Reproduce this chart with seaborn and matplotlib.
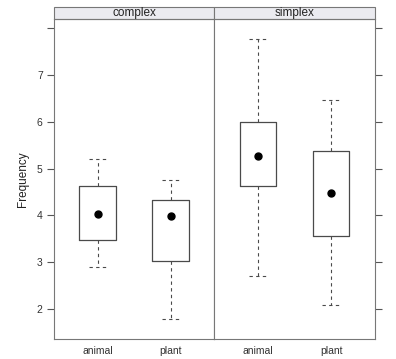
import pandas as pd
import seaborn as sns
import matplotlib.pyplot as plt
from matplotlib.patches import Rectangle

# Box summaries (lattice bwplot: dot = median)
groups = ["complex", "complex", "simplex", "simplex"]
kinds = ["animal", "plant", "animal", "plant"]
whis_lo = [2.89, 1.78, 2.70, 2.09]
q1 = [3.47, 3.02, 4.62, 3.55]
median = [4.04, 3.98, 5.27, 4.47]
q3 = [4.62, 4.32, 6.00, 5.38]
whis_hi = [5.21, 4.75, 7.77, 6.47]

kind_order = ["animal", "plant"]
y_ticks = [2, 3, 4, 5, 6, 7, 8]
y_labels = ["2", "3", "4", "5", "6", "7", ""]

df = pd.DataFrame({
    "group": groups, "kind": kinds, "whislo": whis_lo, "q1": q1,
    "med": median, "q3": q3, "whishi": whis_hi,
})

sns.set_style("ticks")
plt.rcParams["font.family"] = ["Liberation Sans", "DejaVu Sans"]

line_col = "#4a4a4a"


def draw_bw(data, **kws):
    ax = plt.gca()
    stats = []
    for k in kind_order:
        r = data[data["kind"] == k].iloc[0]
        stats.append(dict(whislo=r["whislo"], q1=r["q1"], med=r["med"],
                          mean=r["med"], q3=r["q3"], whishi=r["whishi"],
                          fliers=[], label=k))
    ax.bxp(stats, positions=[1, 2], widths=0.5, showmeans=True,
           boxprops=dict(color=line_col, linewidth=0.9),
           whiskerprops=dict(color=line_col, linewidth=0.8, linestyle=(0, (3, 3))),
           capprops=dict(color=line_col, linewidth=0.8, linestyle=(0, (3, 3))),
           medianprops=dict(linewidth=0),
           meanprops=dict(marker="o", markerfacecolor="black",
                          markeredgecolor="black", markersize=5))


g = sns.FacetGrid(df, col="group", col_order=["complex", "simplex"],
                  sharey=True, height=3.5, aspect=0.55)
g.map_dataframe(draw_bw)
g.set_titles("")
g.figure.set_size_inches(3.96, 3.59)
g.figure.subplots_adjust(left=0.136, right=0.947, bottom=0.056, top=0.947, wspace=0)

ax_c, ax_s = g.axes.flat
for ax, name in zip([ax_c, ax_s], ["complex", "simplex"]):
    ax.set_xlim(0.4, 2.6)
    ax.set_ylim(1.36, 8.2)
    ax.set_xticks([1, 2])
    ax.set_xticklabels(kind_order)
    ax.set_yticks(y_ticks)
    ax.set_xlabel("")
    ax.set_ylabel("")
    for s in ax.spines.values():
        s.set_visible(True)
        s.set_color("#777777")
        s.set_linewidth(0.8)
    # strip on top of each panel
    strip = Rectangle((0, 1), 1, 0.0375, transform=ax.transAxes, clip_on=False,
                      facecolor="#ebebf0", edgecolor="#777777", linewidth=0.8)
    ax.add_patch(strip)
    ax.text(0.5, 1.019, name, transform=ax.transAxes, ha="center", va="center",
            fontsize=8.5, color="#222222")

ax_c.set_yticklabels(y_labels)
ax_c.set_ylabel("Frequency", fontsize=8.5, color="#222222", labelpad=6)

# tick setup last so nothing resets it
for ax in [ax_c, ax_s]:
    ax.tick_params(axis="x", bottom=False, top=False, length=0, pad=5,
                   labelsize=7.5, labelcolor="#333333")
ax_c.yaxis.set_ticks_position("left")
ax_s.yaxis.set_ticks_position("right")
ax_c.tick_params(axis="y", left=True, right=False, labelleft=True, labelright=False,
                 length=5, width=0.8, color="#555555", labelsize=7.5,
                 labelcolor="#333333", pad=3)
ax_s.tick_params(axis="y", left=False, right=True, labelleft=False, labelright=False,
                 length=5, width=0.8, color="#555555")
for t in ax_c.yaxis.get_major_ticks():
    t.tick2line.set_visible(False)
for t in ax_s.yaxis.get_major_ticks():
    t.tick1line.set_visible(False)
    t.label1.set_visible(False)

plt.savefig("out.png", dpi=100)
